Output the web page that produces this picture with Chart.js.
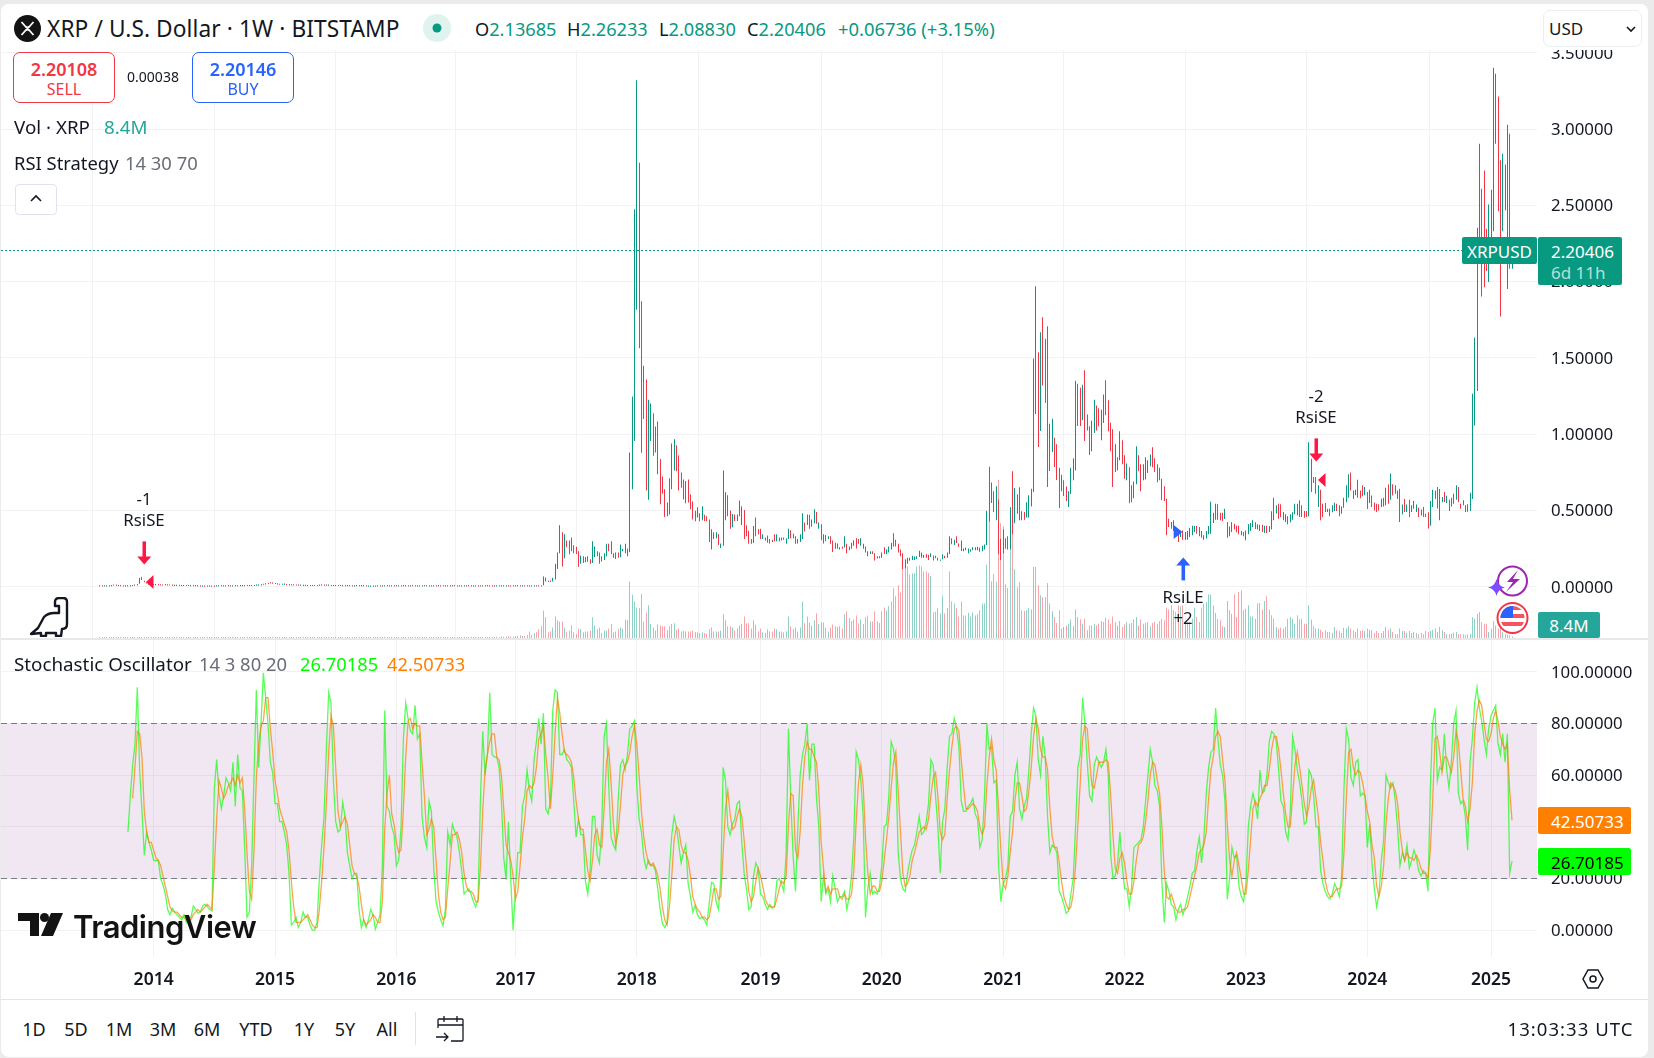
<!DOCTYPE html>
<html><head><meta charset="utf-8"><title>XRP / U.S. Dollar</title>
<script src="https://cdn.jsdelivr.net/npm/chart.js@4"></script>
<style>
html,body{margin:0;padding:0;background:#ebebeb;width:1654px;height:1058px;overflow:hidden;font-family:"Noto Sans",sans-serif;color:#131722}
#card{position:absolute;left:1px;top:4px;width:1647px;height:1053px;background:#fff;border-radius:8px}
canvas{position:absolute;left:0;z-index:1}
.o{position:absolute;z-index:3}
.t{position:absolute;z-index:4;white-space:nowrap;line-height:1;transform:translateY(-50%)}
.c{transform:translate(-50%,-50%)}
.box{position:absolute;z-index:4;box-sizing:border-box;background:#fff;border-radius:7px}
.tag{position:absolute;z-index:4;border-radius:2px}
.up{color:#089981}.dn{color:#f23645}.gr{color:#6a6d78}
</style></head><body>
<div id="card"></div>
<canvas id="mainPane" width="1654" height="598" style="top:40px;width:1654px;height:598px"></canvas>
<canvas id="stochPane" width="1654" height="359" style="top:640px;width:1654px;height:359px"></canvas>

<div class="o" style="left:1px;top:4px;width:1647px;height:46px;background:#fff;border-radius:8px 8px 0 0"></div>
<div class="o" style="left:1px;top:638px;width:1647px;height:2px;background:#e8e8e8"></div>
<div class="o" style="left:1px;top:999px;width:1647px;height:1px;background:#e4e4e4"></div>

<svg class="o" style="left:14px;top:15px;z-index:4" width="27" height="27" viewBox="0 0 27 27"><circle cx="13.5" cy="13.5" r="13.5" fill="#131313"/><path d="M7.500 7 L11.500 11.500 Q13.500 13.500 15.500 11.500 L19.500 7 M7.500 20 L11.500 15.500 Q13.500 13.500 15.500 15.500 L19.500 20" stroke="#fff" stroke-width="1.800" fill="none"/></svg>
<div class="t" style="left:47px;top:29px;font-size:22.7px;letter-spacing:.1px">XRP / U.S. Dollar · 1W · BITSTAMP</div>
<svg class="o" style="left:423px;top:14px;z-index:4" width="28" height="28"><circle cx="14" cy="14" r="14" fill="#e0f3ef"/><circle cx="14" cy="14" r="4.5" fill="#089981"/></svg>
<div class="t" style="left:475px;top:29px;font-size:18.2px">O<span class="up">2.13685</span></div>
<div class="t" style="left:567px;top:29px;font-size:18.2px">H<span class="up">2.26233</span></div>
<div class="t" style="left:659px;top:29px;font-size:18.2px">L<span class="up">2.08830</span></div>
<div class="t" style="left:747px;top:29px;font-size:18.2px">C<span class="up">2.20406</span></div>
<div class="t up" style="left:838px;top:29px;font-size:18.4px">+0.06736 (+3.15%)</div>

<div class="box" style="left:13px;top:52px;width:102px;height:51px;border:1px solid #f23645"></div>
<div class="t c dn" style="left:64px;top:69px;font-size:18px;font-weight:600">2.20108</div>
<div class="t c dn" style="left:64px;top:89px;font-size:16px">SELL</div>
<div class="t c" style="left:153px;top:77px;font-size:14px">0.00038</div>
<div class="box" style="left:192px;top:52px;width:102px;height:51px;border:1px solid #2962ff"></div>
<div class="t c" style="left:243px;top:69px;font-size:18px;font-weight:600;color:#2962ff">2.20146</div>
<div class="t c" style="left:243px;top:89px;font-size:16px;color:#2962ff">BUY</div>

<div class="t" style="left:14px;top:127px;font-size:18.8px">Vol · XRP</div>
<div class="t" style="left:104px;top:127px;font-size:18.8px;color:#26a69a">8.4M</div>
<div class="t" style="left:14px;top:163px;font-size:18.4px">RSI Strategy</div>
<div class="t gr" style="left:125px;top:163px;font-size:18.4px">14 30 70</div>
<div class="box" style="left:15px;top:184px;width:42px;height:31px;border:1px solid #e0e3eb;border-radius:4px"></div>
<svg class="o" style="left:29px;top:194px;z-index:5" width="14" height="10"><path d="M2 7 L7 2 L12 7" stroke="#131722" stroke-width="1.6" fill="none"/></svg>

<div class="box" style="left:1543px;top:10px;width:99px;height:37px;border:1px solid #eceef2"></div>
<div class="t" style="left:1549px;top:28px;font-size:17px">USD</div>
<svg class="o" style="left:1625px;top:25px;z-index:5" width="12" height="8"><path d="M2 2 L6 6 L10 2" stroke="#131722" stroke-width="1.6" fill="none"/></svg>

<div class="tag" style="left:1462px;top:237px;width:75px;height:27px;background:#089981"></div>
<div class="t c" style="left:1499.5px;top:250.5px;font-size:17px;color:#fff">XRPUSD</div>
<div class="tag" style="left:1538px;top:237px;width:84px;height:48px;background:#089981"></div>
<div class="t" style="left:1551px;top:250.5px;font-size:17px;color:#fff">2.20406</div>
<div class="t" style="left:1551px;top:272px;font-size:17px;color:#b5e0d8">6d 11h</div>

<div class="tag" style="left:1538px;top:612px;width:62px;height:26px;background:#26a69a"></div>
<div class="t c" style="left:1569px;top:625px;font-size:17px;color:#fff">8.4M</div>

<svg class="o" style="left:1488px;top:562px" width="44" height="76" viewBox="0 0 44 76">
<circle cx="24.5" cy="19" r="14.5" fill="#fff" stroke="#9c27b0" stroke-width="2"/>
<path d="M30 8 L19 20 H25 L18 30 L32 17 H25 Z" fill="#9c27b0"/>
<path d="M8.500 17 Q10 24 17 25.500 Q10 27 8.500 34 Q7 27 0 25.500 Q7 24 8.500 17Z" fill="#7c4dff"/>
<circle cx="24.500" cy="56" r="15" fill="#fff" stroke="#f23645" stroke-width="2"/>
<clipPath id="fl"><circle cx="24.500" cy="56" r="12"/></clipPath>
<g clip-path="url(#fl)"><rect x="12" y="44" width="25" height="24" fill="#fff"/><rect x="12" y="44" width="25" height="4" fill="#f7525f"/><rect x="12" y="52" width="25" height="4" fill="#f7525f"/><rect x="12" y="60" width="25" height="4" fill="#f7525f"/><rect x="12" y="44" width="13" height="12" fill="#2962ff"/></g>
</svg>
<svg class="o" style="left:30px;top:597px" width="39" height="40" viewBox="0 0 39 40"><path d="M1 37 L8 31 L14 20 Q18 16 24 16 H29 V9 H25 V5 Q25 1 29 1 H33 Q37 1 37 5 V27 Q37 32 32 32 L31 39 H26 V36 H16 V39 H11 V36 Z" fill="#fff" stroke="#131722" stroke-width="2.400" stroke-linejoin="round"/></svg>

<div class="t" style="left:14px;top:664px;font-size:18.8px">Stochastic Oscillator</div>
<div class="t gr" style="left:199px;top:664px;font-size:18.4px">14 3 80 20</div>
<div class="t" style="left:300px;top:664px;font-size:18.3px;color:#00ff00">26.70185</div>
<div class="t" style="left:387px;top:664px;font-size:18.3px;color:#ff7f00">42.50733</div>
<div class="tag" style="left:1538px;top:807px;width:93px;height:27px;background:#ff7f00"></div>
<div class="t" style="left:1551px;top:820.5px;font-size:17px;color:#fff">42.50733</div>
<div class="tag" style="left:1538px;top:848px;width:93px;height:27px;background:#00ff00"></div>
<div class="t" style="left:1551px;top:861.500px;font-size:17px;color:#000">26.70185</div>

<svg class="o" style="left:18px;top:913px" width="46" height="23" viewBox="0 0 46 23"><path d="M0 0 H21 V23 H12 V8 H0 Z M33 0 H45 L35 23 H23 Z" fill="#131313"/><circle cx="26.500" cy="4.500" r="4.500" fill="#131313"/></svg>
<div class="t" style="left:73px;top:926px;font-size:31px;font-weight:600;letter-spacing:-.5px;color:#131313;font-family:Inter,'Noto Sans',sans-serif">TradingView</div>

<svg class="o" style="left:1581px;top:967px" width="24" height="24" viewBox="0 0 24 24"><path d="M7 3 H17 L22 12 L17 21 H7 L2 12 Z" fill="none" stroke="#131722" stroke-width="1.500"/><circle cx="12" cy="12" r="3" fill="none" stroke="#131722" stroke-width="1.500"/></svg>

<div class="t c" style="left:34px;top:1029px;font-size:18px">1D</div>
<div class="t c" style="left:76px;top:1029px;font-size:18px">5D</div>
<div class="t c" style="left:119px;top:1029px;font-size:18px">1M</div>
<div class="t c" style="left:163px;top:1029px;font-size:18px">3M</div>
<div class="t c" style="left:207px;top:1029px;font-size:18px">6M</div>
<div class="t c" style="left:256px;top:1029px;font-size:18px">YTD</div>
<div class="t c" style="left:304px;top:1029px;font-size:18px">1Y</div>
<div class="t c" style="left:345px;top:1029px;font-size:18px">5Y</div>
<div class="t c" style="left:387px;top:1029px;font-size:18px">All</div>
<div class="o" style="left:415px;top:1012px;width:1px;height:33px;background:#e0e3eb"></div>
<svg class="o" style="left:435px;top:1014px" width="30" height="30" viewBox="0 0 30 30"><path d="M3 14 V6 Q3 5 4 5 H27 Q28 5 28 6 V26 Q28 27 27 27 H16 M3 11 H28 M9 2 V8 M22 2 V8 M1 23 H13 M9 19 L13 23 L9 27" fill="none" stroke="#131722" stroke-width="1.300"/></svg>
<div class="t" style="right:20.5px;top:1029px;font-size:18.5px;letter-spacing:1.05px">13:03:33 UTC</div>

<script>
// Week index 0 is the first weekly bar on the chart
const xMin = -42.4, xMax = 615.7;
const yearTicks = [23,75,127,178,230,283,335,387,439,491,543,596];
const yearLabels = ["2014","2015","2016","2017","2018","2019","2020","2021","2022","2023","2024","2025"];
const priceTicks = [0,0.5,1,1.5,2,2.5,3,3.5];
const stochTicks = [0,20,40,60,80,100];
const lastPrice = 2.20406;
const stochStartWeek = 12;

const priceHigh = [
.007,.007,.006,.007,.008,.009,.013,.012,.01,.009,.008,.008,.007,.008,.01,.012,.015,.058,.065,.04,
.03,.02,.016,.015,.016,.016,.014,.013,.016,.014,.013,.012,.011,.011,.011,.01,.01,.01,.01,.009,
.009,.009,.008,.007,.006,.005,.005,.005,.006,.006,.008,.008,.009,.008,.008,.009,.008,.008,.009,.008,
.009,.009,.009,.01,.01,.01,.01,.012,.012,.014,.018,.02,.024,.028,.027,.024,.022,.018,.018,.02,
.016,.015,.014,.014,.013,.012,.012,.011,.011,.01,.01,.01,.01,.01,.012,.014,.012,.012,.012,.01,
.01,.01,.01,.01,.009,.009,.009,.009,.008,.008,.009,.009,.009,.009,.008,.006,.005,.005,.006,.007,
.008,.008,.008,.009,.008,.008,.008,.009,.008,.008,.009,.008,.008,.008,.009,.008,.007,.008,.008,.009,
.008,.008,.007,.008,.008,.009,.008,.008,.008,.007,.008,.008,.009,.008,.007,.008,.008,.008,.009,.008,
.007,.008,.008,.008,.007,.008,.009,.008,.008,.007,.008,.008,.008,.007,.008,.008,.007,.008,.008,.009,
.008,.008,.007,.008,.008,.007,.008,.008,.008,.008,
.067,.062,.038,.038,.06,.151,.225,.403,.358,.344,.304,.304,.324,.272,.262,.233,.205,.2,.196,.2,
.181,.299,.265,.233,.225,.2,.22,.282,.282,.299,.22,.225,.225,.277,.25,.282,.252,.881,1.248,2.474,
3.319,2.779,1.872,1.448,1.359,1.226,1.201,1.137,1.051,1.083,.837,.723,.639,.553,.711,.94,.967,.928,.861,.75,
.703,.694,.703,.607,.56,.499,.521,.482,.528,.472,.462,.442,.378,.358,.358,.344,.284,.763,.62,.6,
.501,.477,.474,.474,.565,.528,.504,.403,.368,.314,.398,.454,.378,.38,.344,.324,.336,.314,.309,.344,
.344,.324,.324,.324,.319,.38,.371,.348,.331,.314,.344,.482,.422,.474,.472,.442,.509,.491,.422,.41,
.344,.339,.331,.331,.304,.289,.284,.26,.265,.331,.282,.265,.289,.306,.319,.314,.319,.282,.265,.233,
.233,.233,.22,.2,.2,.225,.26,.245,.265,.289,.351,.309,.282,.245,.22,.181,.191,.191,.203,.198,
.2,.237,.225,.208,.213,.21,.22,.205,.203,.191,.178,.213,.203,.225,.331,.319,.309,.331,.284,.304,
.252,.257,.252,.247,.26,.26,.262,.257,.269,.277,.499,.787,.684,.627,.659,.573,.314,.378,.319,.331,
.521,.758,.647,.607,
.652,.495,.49,.554,.6,.643,1.497,1.969,1.537,1.668,1.766,1.626,1.707,1.069,1.102,.977,.934,.781,.735,.698,
.658,.626,.781,.842,1.351,1.331,1.305,1.325,1.419,1.13,1.052,1.089,1.226,1.189,1.17,1.161,1.261,1.353,1.222,1.076,
1.032,.934,.849,1.019,.96,.862,.809,.783,.665,.691,.921,.862,.803,.803,.849,.829,.868,.914,.842,.803,
.781,.709,.659,.578,.447,.425,.436,.392,.359,.37,.37,.36,.366,.385,.401,.399,.399,.392,.366,.338,
.366,.399,.558,.486,.545,.541,.486,.486,.512,.425,.396,.423,.414,.401,.401,.366,.36,.37,.41,.418,
.436,.423,.41,.407,.407,.401,.401,.399,.495,.584,.534,.545,.541,.49,.475,.462,.475,.488,.545,.545,
.567,.534,.497,.497,.947,.84,.72,.72,.665,.637,.545,.549,.512,.512,.534,.551,.545,.534,.527,.584,
.665,.737,.75,.632,.637,.702,.632,.665,.654,.621,.637,.599,.552,.545,.541,.578,.584,.65,.672,.742,
.672,.665,.632,.643,.54,.576,.54,.571,.534,.562,.54,.519,.506,.523,.479,.488,.562,.637,.632,.654,
.641,.589,.621,.597,.571,.584,.61,.665,.654,.545,.567,.534,.541,.617,1.266,1.633,2.353,
2.904,2.609,2.729,2.347,2.506,2.602,3.402,3.362,3.214,2.795,2.838,2.768,3.028,2.969,2.262];

const priceLow = [
.003,.003,.002,.003,.003,.004,.008,.007,.005,.004,.003,.003,.002,.003,.005,.007,.01,.021,.045,.03,
.022,.014,.011,.01,.011,.011,.009,.008,.011,.009,.008,.007,.006,.006,.006,.005,.005,.005,.005,.004,
.004,.004,.003,.002,.001,.001,.001,.001,.001,.001,.003,.003,.004,.003,.003,.004,.003,.003,.004,.003,
.004,.004,.004,.005,.005,.005,.005,.007,.007,.009,.013,.015,.018,.022,.021,.018,.016,.013,.013,.014,
.011,.01,.009,.009,.008,.007,.007,.006,.006,.005,.005,.005,.005,.005,.007,.009,.007,.007,.007,.005,
.005,.005,.005,.005,.004,.004,.004,.004,.003,.003,.004,.004,.004,.004,.003,.001,.001,.001,.001,.002,
.003,.003,.003,.004,.003,.003,.003,.004,.003,.003,.004,.003,.003,.003,.004,.003,.002,.003,.003,.004,
.003,.003,.002,.003,.003,.004,.003,.003,.003,.002,.003,.003,.004,.003,.002,.003,.003,.003,.004,.003,
.002,.003,.003,.003,.002,.003,.004,.003,.003,.002,.003,.003,.003,.002,.003,.003,.002,.003,.003,.004,
.003,.003,.002,.003,.003,.002,.003,.003,.003,.003,
.01,.035,.032,.034,.035,.048,.117,.22,.134,.188,.26,.213,.233,.22,.215,.131,.151,.156,.161,.164,
.151,.156,.196,.2,.151,.166,.176,.2,.233,.215,.191,.183,.191,.196,.233,.22,.2,.228,.639,.955,
1.815,1.564,.878,1.1,.632,.57,.955,.859,.881,.738,.541,.61,.457,.462,.474,.639,.763,.758,.632,.65,
.573,.548,.553,.509,.442,.43,.454,.43,.437,.432,.43,.294,.245,.314,.319,.274,.255,.269,.437,.462,
.38,.39,.432,.432,.462,.405,.314,.331,.282,.282,.287,.331,.344,.314,.314,.304,.289,.284,.294,.299,
.299,.299,.304,.309,.282,.314,.319,.319,.282,.284,.294,.314,.363,.405,.38,.393,.417,.413,.38,.306,
.284,.299,.314,.282,.228,.25,.25,.245,.25,.257,.22,.24,.249,.269,.252,.282,.269,.25,.225,.2,
.215,.215,.173,.185,.188,.191,.215,.213,.225,.245,.265,.265,.225,.2,.117,.122,.151,.171,.176,.176,
.183,.196,.191,.191,.191,.176,.196,.173,.188,.173,.171,.181,.188,.191,.215,.279,.274,.287,.262,.235,
.233,.24,.22,.23,.24,.24,.24,.23,.233,.245,.274,.43,.55,.491,.437,.213,.176,.22,.25,.245,
.245,.344,.417,.479,
.436,.436,.44,.455,.455,.527,.621,1.133,.916,1.021,1.32,1.205,.654,.759,.883,.785,.7,.517,.626,.595,
.562,.523,.608,.698,.763,1.054,1.054,1.091,.956,1.025,.864,.888,1.008,1.025,1.052,.96,1.074,1.124,1.019,.888,
.654,.752,.763,.829,.803,.709,.698,.547,.554,.58,.672,.757,.626,.698,.704,.746,.79,.783,.752,.685,
.698,.567,.562,.338,.392,.381,.366,.348,.294,.327,.309,.309,.309,.327,.338,.36,.348,.331,.322,.309,
.316,.344,.348,.418,.44,.44,.436,.432,.444,.322,.331,.36,.375,.357,.344,.338,.331,.305,.344,.366,
.392,.379,.375,.366,.36,.353,.353,.36,.375,.436,.48,.447,.458,.436,.425,.41,.423,.44,.475,.468,
.458,.458,.453,.458,.462,.622,.68,.61,.523,.436,.458,.49,.49,.462,.488,.497,.497,.462,.479,.519,
.554,.584,.632,.575,.6,.584,.58,.593,.6,.51,.549,.523,.5,.49,.5,.523,.527,.534,.545,.571,
.599,.61,.575,.425,.475,.49,.49,.458,.49,.512,.49,.458,.468,.458,.458,.383,.401,.523,.575,.514,
.436,.554,.556,.549,.497,.527,.545,.571,.556,.512,.534,.49,.492,.497,.576,1.058,1.283,
2.14,1.903,1.964,2.07,1.997,2.27,2.331,2.904,2.462,1.772,2.331,2.467,1.951,2.085,2.085];

const barUp = [
1,0,1,1,0,1,1,0,1,0,1,1,0,1,1,0,1,1,0,0,
0,0,0,0,1,0,0,0,1,0,1,0,1,1,0,1,0,0,1,1,
0,1,1,0,1,0,0,1,1,0,1,1,1,0,1,0,0,1,1,0,
1,1,0,1,1,1,1,1,1,1,1,1,0,0,0,1,0,0,1,1,
0,1,1,0,0,0,1,0,0,1,1,0,1,0,1,1,0,0,1,1,
0,1,0,1,1,0,1,0,0,1,1,0,1,1,0,1,1,1,0,0,
1,0,1,1,0,1,0,0,1,0,1,1,0,1,0,1,0,0,1,0,
1,0,1,0,0,1,0,1,1,0,0,1,0,1,0,1,1,0,0,1,
0,1,0,0,1,0,1,1,0,0,1,0,1,0,1,0,0,1,1,0,
0,1,0,1,0,1,1,0,0,1,
1,0,0,0,1,1,1,1,0,1,0,0,0,0,0,0,1,0,0,0,
0,1,1,0,0,0,1,1,0,0,0,0,0,1,1,1,0,1,1,1,
1,0,0,0,0,1,1,0,1,0,0,0,0,1,1,1,1,0,0,0,
0,1,0,0,0,0,1,0,1,0,0,0,1,0,1,0,1,1,1,0,
0,1,0,1,1,1,0,0,0,0,1,0,0,0,1,0,0,1,0,0,
1,1,1,0,1,1,0,0,0,1,1,1,0,1,0,1,1,0,1,0,
1,0,1,0,0,0,0,1,0,1,0,1,1,1,0,0,1,1,0,0,
1,0,0,0,1,1,0,1,1,1,0,0,0,0,0,1,1,1,1,1,
1,1,0,1,0,0,1,0,0,0,1,1,0,1,1,0,1,0,0,1,
1,0,1,1,1,1,1,0,1,1,1,1,1,0,1,0,0,1,0,0,
1,0,1,0,
0,1,0,1,1,1,1,1,0,1,0,0,0,1,1,0,0,0,1,0,
0,1,1,1,1,0,0,1,0,0,0,1,1,0,0,1,1,0,0,0,
0,1,0,1,0,0,1,0,0,1,1,0,0,1,1,1,1,0,0,0,
0,0,0,0,0,0,1,0,0,1,0,1,1,1,1,1,0,0,0,1,
1,1,1,1,1,0,0,0,1,0,1,1,0,0,0,0,0,1,1,1,
1,0,0,0,0,1,0,1,1,1,1,0,0,0,1,0,1,1,1,1,
0,0,0,0,1,0,0,0,1,0,0,0,0,0,1,1,0,0,1,1,
1,1,0,0,1,1,0,0,1,0,1,0,0,0,0,1,1,1,0,1,
0,0,0,0,1,0,1,0,1,1,1,0,0,0,0,0,1,1,0,0,
1,1,0,1,0,1,1,1,0,0,0,0,0,1,1,1,1,
1,0,0,0,1,1,1,1,0,0,1,0,1,0,1];

const volume = [
4,3,4,3,4,4,3,4,3,4,4,3,4,3,4,3,4,5,5,4,4,3,4,3,4,3,4,3,4,4,3,4,3,4,3,4,4,3,4,3,
4,3,4,3,4,4,3,4,3,4,4,3,4,3,4,3,4,4,3,4,3,4,4,3,4,3,4,4,3,4,3,4,4,3,4,3,4,3,4,4,
3,4,3,4,3,4,4,3,4,3,4,3,4,4,3,4,3,4,3,4,4,3,4,3,4,4,3,4,3,4,3,4,4,3,4,3,4,3,4,4,
3,4,3,4,4,3,4,3,4,3,4,4,3,4,3,4,3,4,4,3,4,3,4,3,4,4,3,4,3,4,3,4,3,4,4,3,4,4,4,3,
4,3,4,4,5,4,4,5,5,4,6,5,8,7,6,9,8,7,10,12,
14,10,10,16,34,16,26,30,46,62,146,110,30,34,56,114,94,88,88,54,
30,40,66,30,20,50,46,30,34,34,40,110,66,46,56,26,38,40,50,74,
30,34,46,56,50,98,94,300,232,194,162,160,236,88,136,174,74,56,40,72,
66,62,62,42,62,74,78,42,50,34,40,34,34,34,40,32,30,26,30,26,
22,46,56,34,34,34,40,126,94,62,62,56,40,50,66,74,114,78,78,50,
94,70,34,50,30,26,46,34,34,50,46,34,34,30,34,114,62,46,56,34,
56,194,78,114,82,66,94,130,74,82,82,54,34,56,72,62,58,62,50,126,
142,106,90,98,120,78,98,74,110,120,88,88,142,88,80,142,162,146,170,194,
264,222,280,242,390,400,380,338,344,344,380,386,380,354,354,346,330,136,140,160,
130,222,130,160,354,194,184,160,114,194,120,120,134,114,136,120,126,146,184,184,
390,650,300,340,300,840,610,594,286,266,470,590,366,270,296,
147,144,147,160,151,378,378,280,227,218,218,293,183,142,112,80,147,
50,58,67,76,98,62,151,112,98,76,103,41,67,67,76,67,76,90,85,108,
98,76,115,85,67,90,58,73,85,76,80,98,112,67,98,76,80,85,62,80,
85,76,90,103,94,161,151,174,147,138,174,168,174,85,85,85,103,161,112,85,
161,183,191,232,232,174,133,103,94,62,58,197,147,129,232,112,245,254,147,156,
174,115,115,103,183,186,151,197,222,151,121,103,58,50,55,50,58,103,112,103,
76,121,98,103,76,76,174,98,62,50,50,44,32,41,32,32,27,58,41,37,
27,55,50,62,50,41,32,50,37,41,37,50,44,41,27,37,27,27,37,58,
41,50,32,20,20,50,37,37,27,37,27,32,27,20,27,20,37,32,37,44,
50,32,58,41,32,20,20,23,27,32,20,20,20,14,20,23,112,103,129,138,
85,76,76,32,50,90,67,50,76,32,23,18,14,8.4];

const stochK = [
38,52,64,72,94,62,46,29,38,34,31,27,27,27,20,17.5,14,8,6,8.5,
7,6,5,4,6,3,5,5,9.4,8,6.5,7,9.5,10,9,8,7.5,55,66,53,
47,52,59,57,54,65,48,68,55,54,32,5,7,25,60,93,63,80,99.6,90,
80,65,61,49,49,42,42,38,33,22,2,3,5,1,3,7,5,5,2,0,
0,3,20,33,44,70,92,88,58,42,38,39,49.5,44,30,25,20,22,22,8,
1,4,1,4,8,6,0.4,3,6,25,85,48,46,40,37,25,27,40,74,88,
82,77,76,87,74,76,44,36,32,50,46,24,11,7,4,1.7,8,38,33,41,
38,36,30,23,14,15,16,14,11,9,12,50,77,60,68,92,68,67,67,63,
50,28,19.5,42,20,0,15,30,30,48,52,62,54,50,66,73,82,72,84,47,
45,50,85,93,92,
68,68,70,66,65,63,50,36,43,37,37,19,14,23,44,44,29,26,40,75,
80,55,36,33,31,50,64,66,62,68,78,79,81,56,43,38,28,24,27,25,
25,23,16,8,2.5,1,3,24,37,44,40,33,26,30,33,18,13,7,9.5,6,
4.5,5,4,2,10,18.5,18,11,8,20,63,58,40,37,41,43,49,50,34,22,
16,8,9,21,26,24,14,13,10,8,10,8.5,9,19,20,18,15,30,78,50,
28.5,15,40,60,68,72,80,58,72,72,51,40,11,21,14,16,11,21,16,11,
13,13,15,8,13,21,36,69,66,58,44,5,16,22,14,15,14,17,25,40,
41,52,73,70,63,30,20,16,15,22,27,31,33,38,44,37,38,42,49,66,
64,52,40,22,42,47,63,75,76,82,78,71,50,46,46,48,49,51,45,43,
32,35,52,80,70,71,57,58,25,11,18,20,25,44,46,60,65,47,43,48,
51,62,76,86,83,66,60,75,67,44,30,33,32,30,15,13,10,6.5,7.5,14,
20,40,63,68,90,80,65,52,50,64,67,65,63,65,70,60,30,20,21,26,
38,25,16,16,9,17,32,33,34,35,40,50,60,70,65,56,54,48,18,3,
18,15,10,9,4,8,10,6,9,13,17,22,23,31,36,26,36,53,63,69,
70,86,74,64,60,50,12,20,32,28,29,17,13,11,18,40,48,53,49,43,
62,53,54,60,73,77,76,73,62,50,48,38,35,46,75,70,62,57,50,41,
42,62,60,52,40,40,23,18,15,13,12,14,18,16,13,21,55,78,74,59,
56,65,66,52,53,52,32,41,26,16,9,14,27,35,60,57,55,57,50,39,
25,30,27,33,24,27,31,28,23,21,23,22,15,55,80,86,58,63,62,76,
62,55,65,80,85,53,49,50,44,31,65,74,88,94,86,81,74,68,78,83,
85,87,72,68,76,65,76,22,26.70185];

const stochD = [
null,null,51,63,77,76,67,46,38,34,34,31,28,27,25,21,17,13,9,7.5,
7,7,6,5,5,4,5,4,6,7,8,7,8,9,10,9,8,24,43,58,
55,51,53,56,57,59,56,60,57,59,47,30,15,12,31,59,72,79,81,90,
90,78,69,58,53,47,44,41,38,31,19,9,3,3,3,4,5,6,4,2,
1,1,8,19,32,49,69,83,79,63,46,40,42,44,41,33,25,22,21,17,
10,4,2,3,4,6,5,3,3,11,39,53,60,45,41,34,30,31,47,67,
81,82,78,80,79,79,65,52,37,39,43,40,27,14,7,4,5,16,26,37,
37,38,35,30,22,17,15,15,14,11,11,24,46,62,68,73,76,76,67,66,
60,47,33,30,27,21,12,15,25,36,43,54,56,55,57,63,74,76,79,68,
59,47,60,76,90,
84,76,69,68,67,65,59,50,43,39,39,31,23,19,27,37,39,33,32,47,
65,70,57,41,33,38,48,60,64,65,69,75,79,72,60,46,36,30,26,25,
26,24,21,16,9,4,2,9,21,35,40,39,33,30,30,27,21,13,10,8,
7,5,5,4,5,10,16,16,12,13,30,47,54,45,39,40,44,47,44,35,
24,15,11,13,19,24,21,17,12,10,9,9,9,12,16,19,18,21,41,53,
52,31,28,38,56,67,73,70,70,67,65,54,34,24,15,17,14,16,16,16,
13,12,14,12,12,14,23,42,57,64,56,36,22,14,17,17,15,15,19,27,
35,44,55,65,69,54,38,22,17,18,21,27,30,34,38,39,40,39,43,52,
59,61,52,38,35,37,51,62,71,78,79,77,66,56,47,47,48,49,48,46,
40,37,40,56,67,74,66,62,47,31,18,16,21,30,38,50,57,57,52,46,
47,54,63,75,82,78,70,67,67,62,47,36,32,32,26,19,13,10,8,9,
14,25,41,57,74,79,78,66,56,55,60,65,65,65,66,65,53,37,24,22,
28,30,26,19,14,14,19,27,33,34,36,42,50,60,65,64,58,53,40,23,
13,12,14,11,8,7,7,8,8,9,13,17,21,25,30,31,33,38,51,62,
67,75,77,75,66,58,41,27,21,27,30,25,20,14,14,23,35,47,50,48,
51,53,56,56,62,70,75,75,70,62,53,45,40,40,52,64,69,63,56,49,
44,48,55,58,51,44,34,27,19,15,13,13,15,16,16,17,30,51,69,70,
63,60,62,61,57,52,46,42,33,28,17,13,17,25,41,51,57,56,54,49,
38,31,27,30,28,28,27,29,27,24,22,22,20,31,50,74,75,69,61,67,
67,64,61,67,77,73,62,51,48,42,47,57,76,85,89,87,80,74,73,76,
82,85,81,75,72,70,72,54,42.50733];

// Trade signals from the RSI Strategy
const signalWeeks = [19,521,464];
const signalTipPrices = [0.147,0.822,0.193];
const signalFlagPrices = [0.032,0.70,0.36];
const signalDirections = [-1,-1,1];
const signalNames = ["RsiSE","RsiSE","RsiLE"];
const signalSizes = ["-1","-2","+2"];

const UP="#089981", DOWN="#f23645", GRID="#f2f2f2";
const volUp="rgba(8,153,129,0.45)", volDown="rgba(242,54,69,0.45)";
const FONT='"Noto Sans",sans-serif';
const weeks = priceHigh.map((_,i)=>i);

const fixAxis = (w,h)=>s=>{ if(w!=null) s.width=w; if(h!=null) s.height=h; s.paddingTop=s.paddingBottom=s.paddingLeft=s.paddingRight=0; };
const crispBars = {id:'crispBars',beforeDatasetsDraw(c){
  c.data.datasets.forEach((d,i)=>{ const m=c.getDatasetMeta(i); if(m.type==='bar') m.data.forEach(e=>{e.x=Math.floor(e.x)+0.5;}); });
}};
const signalPlugin = {id:'signals',afterDatasetsDraw(c){
  const g=c.ctx,x=c.scales.x,y=c.scales.y;
  signalWeeks.forEach((w,k)=>{
    const px=Math.round(x.getPixelForValue(w)),tip=y.getPixelForValue(signalTipPrices[k]),d=signalDirections[k];
    const col=d<0?'#ff1744':'#2962ff';
    g.fillStyle=col;
    g.fillRect(px-1.5,d<0?tip-23:tip+7,3.5,16);
    g.beginPath();g.moveTo(px+.25,tip);g.lineTo(px-6.75,tip+(d<0?-8:8));g.lineTo(px+7.25,tip+(d<0?-8:8));g.closePath();g.fill();
    const fy=y.getPixelForValue(signalFlagPrices[k]);
    g.beginPath();
    if(d<0){g.moveTo(px+2,fy);g.lineTo(px+9.5,fy-7);g.lineTo(px+9.5,fy+7);}
    else{g.moveTo(px-0.6,fy);g.lineTo(px-9.3,fy-7);g.lineTo(px-9.3,fy+7);}
    g.closePath();g.fill();
    g.fillStyle='#131722';g.font='16.8px '+FONT;g.textAlign='center';g.textBaseline='middle';
    if(d<0){g.fillText(signalSizes[k],px,tip-64);g.fillText(signalNames[k],px,tip-43.5);}
    else{g.fillText(signalNames[k],px,tip+40.7);g.fillText(signalSizes[k],px,tip+62);}
  });
}};

new Chart(document.getElementById('mainPane'),{
  type:'bar',
  data:{datasets:[
    {type:'bar',label:'XRPUSD',yAxisID:'y',order:1,grouped:false,barThickness:1,maxBarThickness:1,minBarLength:1.2,inflateAmount:0,
     data:weeks.map(i=>({x:i,y:[priceLow[i],priceHigh[i]]})),
     backgroundColor:barUp.map(u=>u?UP:DOWN)},
    {type:'line',label:'Last price',yAxisID:'y',order:2,pointRadius:0,borderWidth:1,borderColor:UP,borderDash:[2,2],
     data:[{x:xMin,y:lastPrice},{x:xMax,y:lastPrice}]},
    {type:'bar',label:'Vol',yAxisID:'v',order:3,grouped:false,barThickness:1,maxBarThickness:1,minBarLength:1,inflateAmount:0,
     data:volume.map((v,i)=>({x:i,y:v})),
     backgroundColor:barUp.map(u=>u?volUp:volDown)}
  ]},
  options:{responsive:false,animation:false,devicePixelRatio:1,layout:{padding:{left:1}},
    plugins:{legend:{display:false},tooltip:{enabled:false}},
    scales:{
      x:{type:'linear',min:xMin,max:xMax,offset:false,border:{display:false},
         grid:{color:GRID,drawTicks:false},ticks:{display:false},
         afterBuildTicks:s=>{s.ticks=yearTicks.map(v=>({value:v}));},afterFit:fixAxis(null,0)},
      y:{position:'right',min:-0.33526,max:3.58348,border:{display:false},
         grid:{color:GRID,drawTicks:false},
         ticks:{padding:14,labelOffset:1,color:'#131722',font:{family:FONT,size:16.8},callback:v=>v.toFixed(5),autoSkip:false},
         afterBuildTicks:s=>{s.ticks=priceTicks.map(v=>({value:v}));},afterFit:fixAxis(117,null)},
      v:{display:false,position:'left',min:0,max:3181}
    }},
  plugins:[crispBars,signalPlugin]
});

new Chart(document.getElementById('stochPane'),{
  type:'line',
  data:{datasets:[
    {label:'Upper band',data:[{x:xMin,y:80},{x:xMax,y:80}],borderColor:'#787b86',borderWidth:1,borderDash:[6,4],pointRadius:0,fill:{value:20},backgroundColor:'rgba(130,40,140,0.115)',order:4},
    {label:'Lower band',data:[{x:xMin,y:20},{x:xMax,y:20}],borderColor:'#787b86',borderWidth:1,borderDash:[6,4],pointRadius:0,order:3},
    {label:'%K',data:stochK.map((v,i)=>({x:stochStartWeek+i,y:v})),borderColor:'rgba(0,255,0,0.65)',borderWidth:1.3,pointRadius:0,tension:0,order:2},
    {label:'%D',data:stochD.map((v,i)=>({x:stochStartWeek+i,y:v})),borderColor:'rgba(255,127,0,0.7)',borderWidth:1.3,pointRadius:0,tension:0,order:1}
  ]},
  options:{responsive:false,animation:false,devicePixelRatio:1,layout:{padding:{left:1}},
    plugins:{legend:{display:false},tooltip:{enabled:false}},
    scales:{
      x:{type:'linear',min:xMin,max:xMax,offset:false,border:{display:false},
         grid:{color:GRID,drawTicks:false},
         ticks:{autoSkip:false,maxRotation:0,padding:13,color:'#131722',font:{family:FONT,size:17.5,weight:'600'},
                callback:v=>yearLabels[yearTicks.indexOf(v)]},
         afterBuildTicks:s=>{s.ticks=yearTicks.map(v=>({value:v}));},afterFit:fixAxis(null,42)},
      y:{position:'right',min:-10.387,max:112.323,border:{display:false},
         grid:{color:GRID,drawTicks:false},
         ticks:{padding:14,labelOffset:1,color:'#131722',font:{family:FONT,size:16.8},callback:v=>v.toFixed(5),autoSkip:false},
         afterBuildTicks:s=>{s.ticks=stochTicks.map(v=>({value:v}));},afterFit:fixAxis(117,null)}
    }}
});
</script>
</body></html>
